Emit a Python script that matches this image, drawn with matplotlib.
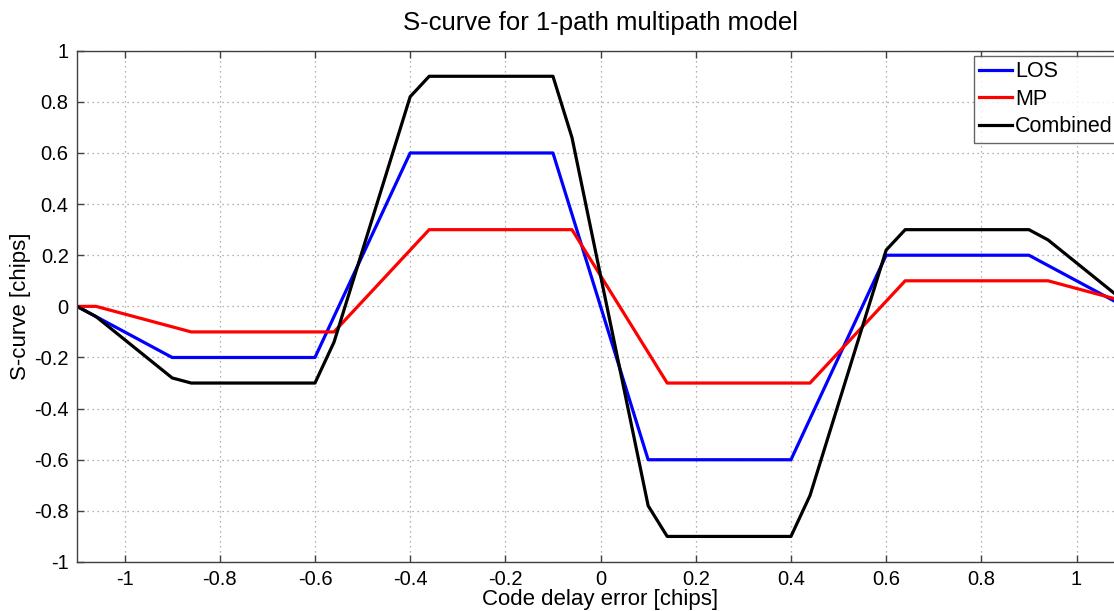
import matplotlib.pyplot as plt
import numpy as np

plt.rcParams['font.family'] = ['Liberation Sans', 'DejaVu Sans']

# breakpoints of the piecewise-linear discriminator curves (chips)
x_pts = [-1.1, -1.06, -0.9, -0.86, -0.6, -0.56, -0.4, -0.36, -0.1, -0.06,
         0.1, 0.14, 0.4, 0.44, 0.6, 0.64, 0.9, 0.94, 1.1]
los = [0.0, -0.04, -0.2, -0.2, -0.2, -0.04, 0.6, 0.6, 0.6, 0.36,
       -0.6, -0.6, -0.6, -0.44, 0.2, 0.2, 0.2, 0.16, 0.0]
mp = [0.0, 0.0, -0.08, -0.1, -0.1, -0.1, 0.22, 0.3, 0.3, 0.3,
      -0.18, -0.3, -0.3, -0.3, 0.02, 0.1, 0.1, 0.1, 0.02]
combined = [0.0, -0.04, -0.28, -0.3, -0.3, -0.14, 0.82, 0.9, 0.9, 0.66,
            -0.78, -0.9, -0.9, -0.74, 0.22, 0.3, 0.3, 0.26, 0.02]

xticks = [-1, -0.8, -0.6, -0.4, -0.2, 0, 0.2, 0.4, 0.6, 0.8, 1]
xtick_labels = ['-1', '-0.8', '-0.6', '-0.4', '-0.2', '0', '0.2', '0.4', '0.6', '0.8', '1']
yticks = [-1, -0.8, -0.6, -0.4, -0.2, 0, 0.2, 0.4, 0.6, 0.8, 1]
ytick_labels = ['-1', '-0.8', '-0.6', '-0.4', '-0.2', '0', '0.2', '0.4', '0.6', '0.8', '1']

fig = plt.figure(figsize=(11.14, 6.11), dpi=100)
ax = fig.add_axes([0.0691, 0.0802, 0.940, 0.8368])

ax.plot(x_pts, los, color='#0000ff', lw=2.3, label='LOS')
ax.plot(x_pts, mp, color='#ff0000', lw=2.3, label='MP')
ax.plot(x_pts, combined, color='#000000', lw=2.3, label='Combined')

ax.set_xlim(-1.1, 1.1)
ax.set_ylim(-1, 1)
ax.set_xticks(xticks)
ax.set_xticklabels(xtick_labels)
ax.set_yticks(yticks)
ax.set_yticklabels(ytick_labels)
ax.tick_params(direction='in', length=5, width=1, color='#404040',
               labelsize=14.5, top=True, right=True, pad=6)
for s in ax.spines.values():
    s.set_color('#404040')
    s.set_linewidth(1)
ax.grid(True, linestyle=(0, (1, 3)), color='#999999', lw=0.9)

ax.set_title('S-curve for 1-path multipath model', fontsize=18.5, pad=15)
ax.set_xlabel('Code delay error [chips]', fontsize=16, labelpad=0)
ax.set_ylabel('S-curve [chips]', fontsize=16, labelpad=2)

leg = ax.legend(loc='upper left', bbox_to_anchor=(974 / 1114, 1 - 56 / 611),
                bbox_transform=fig.transFigure, fontsize=15.5, frameon=True,
                fancybox=False, edgecolor='#404040', handlelength=1.5,
                handletextpad=0.15, labelspacing=0.3, borderpad=0.25,
                borderaxespad=0)
leg.get_frame().set_linewidth(1)

fig.savefig('out.png', dpi=100)
